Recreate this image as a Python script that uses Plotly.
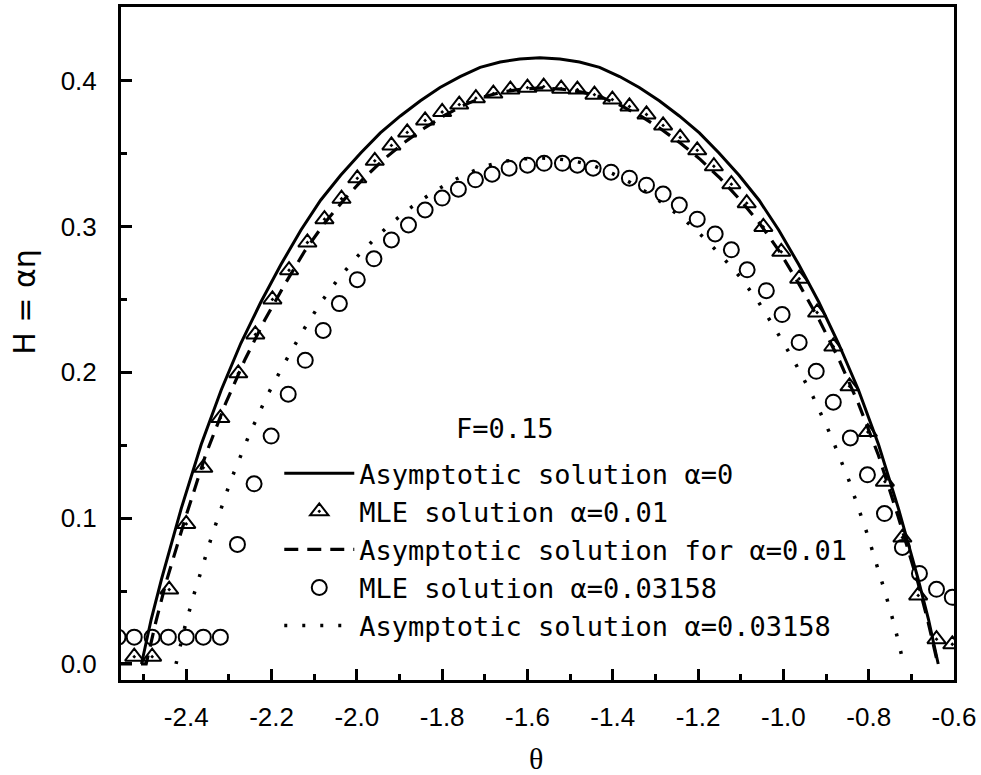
import plotly.graph_objects as go

# ---------------- data ----------------
# Asymptotic solution alpha = 0 (solid)
solid_theta = [-2.505, -2.482, -2.458, -2.412, -2.365, -2.318, -2.272, -2.225, -2.178,
               -2.131, -2.085, -2.038, -1.991, -1.945, -1.898, -1.851, -1.805, -1.758,
               -1.711, -1.664, -1.618, -1.571, -1.524, -1.478, -1.431, -1.384, -1.338,
               -1.291, -1.244, -1.197, -1.151, -1.104, -1.057, -1.011, -0.964, -0.917,
               -0.871, -0.824, -0.777, -0.730, -0.684, -0.660, -0.637]
solid_h = [0.0, 0.0308, 0.0582, 0.1064, 0.1505, 0.1879, 0.2199, 0.2482, 0.2739,
           0.2976, 0.3180, 0.3351, 0.3504, 0.3642, 0.3758, 0.3862, 0.3953, 0.4028,
           0.4091, 0.4128, 0.4149, 0.4157, 0.4149, 0.4128, 0.4091, 0.4028, 0.3953,
           0.3862, 0.3758, 0.3642, 0.3504, 0.3351, 0.3180, 0.2976, 0.2739, 0.2482,
           0.2199, 0.1879, 0.1505, 0.1064, 0.0582, 0.0308, 0.0]

# MLE solution alpha = 0.01 (triangles)
tri_theta = [-2.522, -2.480, -2.440, -2.400, -2.360, -2.320, -2.278, -2.238, -2.198,
             -2.159, -2.116, -2.076, -2.036, -1.999, -1.958, -1.919, -1.882, -1.840,
             -1.800, -1.760, -1.721, -1.680, -1.640, -1.600, -1.562, -1.521, -1.483,
             -1.443, -1.401, -1.361, -1.321, -1.282, -1.242, -1.202, -1.163, -1.122,
             -1.086, -1.047, -1.005, -0.963, -0.921, -0.883, -0.845, -0.802, -0.762,
             -0.721, -0.684, -0.641, -0.604]
tri_h = [0.005, 0.005, 0.051, 0.096, 0.1345, 0.1686, 0.1993, 0.226, 0.250,
         0.270, 0.289, 0.305, 0.319, 0.333, 0.345, 0.3556, 0.3645, 0.3727,
         0.3785, 0.3836, 0.388, 0.3911, 0.3939, 0.3952, 0.3959, 0.3945, 0.3939,
         0.3904, 0.387, 0.3823, 0.3768, 0.3693, 0.361, 0.3522, 0.3413, 0.329,
         0.316, 0.2997, 0.2826, 0.2642, 0.241, 0.2177, 0.1904, 0.159, 0.125,
         0.0867, 0.047, 0.017, 0.0135]

# Asymptotic solution for alpha = 0.01 (dashed)
dash_theta = [-2.560, -2.494, -2.471, -2.448, -2.401, -2.355, -2.308, -2.262, -2.216,
              -2.169, -2.123, -2.076, -2.030, -1.984, -1.937, -1.891, -1.844, -1.798,
              -1.752, -1.705, -1.659, -1.612, -1.566, -1.520, -1.473, -1.427, -1.380,
              -1.334, -1.288, -1.241, -1.195, -1.148, -1.102, -1.056, -1.009, -0.963,
              -0.916, -0.870, -0.824, -0.777, -0.731, -0.684, -0.661, -0.638]
dash_h = [0.0, 0.0, 0.0292, 0.0553, 0.1011, 0.1430, 0.1785, 0.2090, 0.2358,
          0.2603, 0.2828, 0.3022, 0.3184, 0.3330, 0.3460, 0.3571, 0.3670, 0.3756,
          0.3828, 0.3887, 0.3922, 0.3942, 0.3950, 0.3942, 0.3922, 0.3887, 0.3828,
          0.3756, 0.3670, 0.3571, 0.3460, 0.3330, 0.3184, 0.3022, 0.2828, 0.2603,
          0.2358, 0.2090, 0.1785, 0.1430, 0.1011, 0.0553, 0.0292, 0.0]

# MLE solution alpha = 0.03158 (circles)
circ_theta = [-2.560, -2.522, -2.480, -2.442, -2.400, -2.360, -2.320, -2.280, -2.241,
              -2.201, -2.161, -2.121, -2.079, -2.041, -1.999, -1.960, -1.919, -1.879,
              -1.840, -1.800, -1.762, -1.722, -1.683, -1.643, -1.600, -1.561, -1.518,
              -1.483, -1.446, -1.404, -1.361, -1.321, -1.282, -1.244, -1.202, -1.160,
              -1.122, -1.085, -1.040, -1.003, -0.963, -0.923, -0.883, -0.843, -0.803,
              -0.763, -0.721, -0.681, -0.641, -0.604]
circ_h = [0.0184, 0.0184, 0.0184, 0.0184, 0.0184, 0.0184, 0.0184, 0.082, 0.1235,
          0.1563, 0.185, 0.2082, 0.2287, 0.2471, 0.2635, 0.2778, 0.2908, 0.301,
          0.3113, 0.3195, 0.3256, 0.332, 0.3358, 0.340, 0.342, 0.3433, 0.3433,
          0.342, 0.340, 0.3372, 0.3331, 0.3283, 0.3222, 0.3147, 0.305, 0.2949,
          0.284, 0.2703, 0.256, 0.2396, 0.2205, 0.2007, 0.1795, 0.155, 0.1297,
          0.1031, 0.0799, 0.0621, 0.0512, 0.0457]

# Asymptotic solution alpha = 0.03158 (dotted)
dot_theta = [-2.424, -2.403, -2.381, -2.339, -2.296, -2.253, -2.211, -2.168, -2.126,
             -2.083, -2.040, -1.998, -1.955, -1.912, -1.870, -1.827, -1.784, -1.742,
             -1.699, -1.656, -1.614, -1.571, -1.528, -1.486, -1.443, -1.400, -1.358,
             -1.315, -1.272, -1.230, -1.187, -1.145, -1.102, -1.059, -1.017, -0.974,
             -0.931, -0.889, -0.846, -0.803, -0.761, -0.739, -0.718]
dot_h = [0.0, 0.0257, 0.0486, 0.0888, 0.1256, 0.1568, 0.1836, 0.2072, 0.2287,
         0.2485, 0.2655, 0.2797, 0.2925, 0.3040, 0.3137, 0.3224, 0.3300, 0.3362,
         0.3414, 0.3446, 0.3463, 0.3470, 0.3463, 0.3446, 0.3414, 0.3362, 0.3300,
         0.3224, 0.3137, 0.3040, 0.2925, 0.2797, 0.2655, 0.2485, 0.2287, 0.2072,
         0.1836, 0.1568, 0.1256, 0.0888, 0.0486, 0.0257, 0.0]

x_tickvals = [-2.4, -2.2, -2.0, -1.8, -1.6, -1.4, -1.2, -1.0, -0.8, -0.6]
x_ticktext = ["-2.4", "-2.2", "-2.0", "-1.8", "-1.6", "-1.4", "-1.2", "-1.0", "-0.8", "-0.6"]
y_tickvals = [0.0, 0.1, 0.2, 0.3, 0.4]
y_ticktext = ["0.0", "0.1", "0.2", "0.3", "0.4"]

LEG_FONT = dict(family="DejaVu Sans Mono, DejaVu Sans, monospace", size=27, color="black")

# ---------------- figure ----------------
fig = go.Figure()

fig.add_trace(go.Scatter(x=solid_theta, y=solid_h, mode="lines",
                         name="Asymptotic solution \u03b1=0", legendgroup="a",
                         line=dict(color="black", width=3)))
fig.add_trace(go.Scatter(x=tri_theta, y=tri_h, mode="markers",
                         name="MLE solution \u03b1=0.01", legendgroup="b",
                         marker=dict(symbol="triangle-up-open-dot", size=16, color="black",
                                     line=dict(color="black", width=2))))
fig.add_trace(go.Scatter(x=dash_theta, y=dash_h, mode="lines",
                         name="Asymptotic solution for \u03b1=0.01", legendgroup="c",
                         line=dict(color="black", width=3.2, dash="14px,9px")))
fig.add_trace(go.Scatter(x=circ_theta, y=circ_h, mode="markers",
                         name="MLE solution \u03b1=0.03158", legendgroup="d",
                         marker=dict(symbol="circle-open", size=15, color="black",
                                     line=dict(color="black", width=2))))
fig.add_trace(go.Scatter(x=dot_theta, y=dot_h, mode="lines",
                         name="Asymptotic solution \u03b1=0.03158", legendgroup="e",
                         line=dict(color="black", width=3.5, dash="3px,15px")))

axis_common = dict(showline=True, linecolor="black", linewidth=3, mirror=True,
                   ticks="inside", tickcolor="black", tickwidth=2.5, ticklen=11,
                   showgrid=False, zeroline=False,
                   tickfont=dict(family="Liberation Sans, Arial, sans-serif", size=26, color="black"))

fig.update_xaxes(range=[-2.553, -0.6], tickvals=x_tickvals, ticktext=x_ticktext,
                 ticklabelstandoff=12,
                 minor=dict(ticks="inside", dtick=0.1, tick0=-2.4, ticklen=6,
                            tickwidth=2.5, tickcolor="black"),
                 **axis_common)
fig.update_yaxes(range=[-0.011, 0.4505], tickvals=y_tickvals, ticktext=y_ticktext,
                 ticklabelstandoff=16,
                 minor=dict(ticks="inside", dtick=0.05, tick0=0, ticklen=6,
                            tickwidth=2.5, tickcolor="black"),
                 **axis_common)

# axis titles
fig.add_annotation(text="\u03b8", xref="paper", yref="paper", x=0.498, y=-0.117,
                   xanchor="center", yanchor="middle", showarrow=False,
                   font=dict(family="Liberation Serif, Times New Roman, serif", size=30, color="black"))
fig.add_annotation(text="H = \u03b1\u03b7", xref="paper", yref="paper", x=-0.1152, y=0.562,
                   xanchor="center", yanchor="middle", textangle=-90, showarrow=False,
                   font=dict(family="DejaVu Sans, sans-serif", size=30, color="black"))

# legend heading
fig.add_annotation(text="F=0.15", xref="paper", yref="paper", x=0.461, y=0.374,
                   xanchor="center", yanchor="middle", showarrow=False, font=LEG_FONT)

fig.update_layout(
    width=981, height=775,
    margin=dict(l=121, r=27, t=4, b=95),
    paper_bgcolor="white", plot_bgcolor="white",
    showlegend=True,
    legend=dict(x=0.19, y=0.343, xanchor="left", yanchor="top",
                bgcolor="rgba(0,0,0,0)", borderwidth=0,
                itemwidth=70, tracegroupgap=0, itemclick=False,
                font=LEG_FONT),
)

fig.write_html("out.html")
